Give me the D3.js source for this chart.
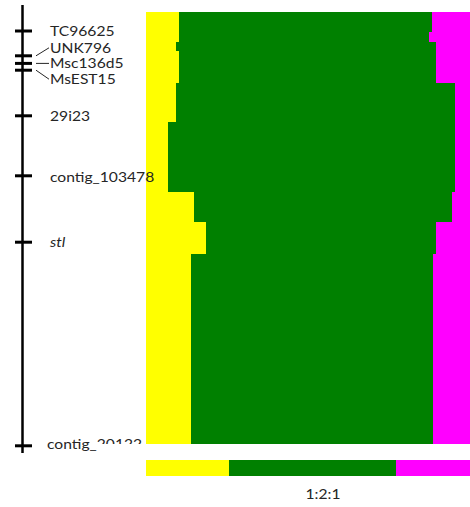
<!DOCTYPE html>
<html><head><meta charset="utf-8">
<script src="https://cdn.jsdelivr.net/npm/d3@7"></script>
<style>html,body{margin:0;padding:0;background:#fff;overflow:hidden}svg{display:block}</style>
</head><body>
<script>
// Genetic map markers (cM)
const markers = ["TC96625","UNK796","Msc136d5","MsEST15","29i23","contig_103478","stl","contig_20122"];
const markerPos = [6.5, 12.7, 14.6, 16.3, 27.7, 42.7, 59.3, 110.2];
const mapLength = 112;

// Segregation bins along the map (cM), genotype class percentages
const binStart = [1.75, 6.75, 9.25, 11.5, 19.5, 29.25, 46.75, 54.25, 62.25];
const binEnd   = [6.75, 9.25, 11.5, 19.5, 29.25, 46.75, 54.25, 62.25, 109.75];
const pctA = [10.0, 10.0, 8.9, 10.0, 8.9, 6.7, 14.5, 17.9, 13.4];   // yellow
const pctH = [76.0, 75.1, 78.2, 77.1, 83.9, 86.1, 77.3, 69.2, 72.7]; // green
const pctB = [14.0, 14.9, 12.9, 12.9, 7.2, 7.2, 8.2, 12.9, 13.9];   // magenta

// Expected ratio
const expectedLabel = "1:2:1";
const expected = [25, 50, 25];

const classes = ["A","H","B"];
const colors = {A:"#ffff00", H:"#008000", B:"#ff00ff"};

const W = 470, H = 507;
const FONT = "Lato, 'Open Sans', sans-serif", FS = 13.5, SX = 1.16, TXT = "#262626";
const svg = d3.select("body").append("svg").attr("width", W).attr("height", H);

const y = d3.scaleLinear().domain([0, mapLength]).range([5, 453]);
const x = d3.scaleLinear().domain([0, 100]).range([146, 479]);

// stacked bins
const rows = binStart.map((s, i) => ({s, e: binEnd[i], A: pctA[i], H: pctH[i], B: pctB[i]}));
const stack = d3.stack().keys(classes)(rows);
svg.append("g").selectAll("g").data(stack).join("g")
  .attr("fill", d => colors[d.key])
  .selectAll("rect").data(d => d).join("rect")
  .attr("x", d => x(d[0]))
  .attr("width", d => x(d[1]) - x(d[0]))
  .attr("y", d => y(d.data.s))
  .attr("height", d => y(d.data.e) - y(d.data.s))
  .attr("shape-rendering", "crispEdges");

// map
const mapX = 22.5;
svg.append("line").attr("x1", mapX).attr("x2", mapX).attr("y1", y(0)).attr("y2", y(mapLength))
  .attr("stroke", "#000").attr("stroke-width", 2.5);
svg.append("g").selectAll("line").data(markerPos).join("line")
  .attr("x1", 15).attr("x2", 32).attr("y1", d => y(d)).attr("y2", d => y(d))
  .attr("stroke", "#000").attr("stroke-width", 3);

function stretchedText(parent, tx, ty, str, anchor) {
  const g = parent.append("g").attr("transform", `translate(${tx},${ty}) scale(${SX},1)`);
  return g.append("text").attr("dy", "0.35em").attr("text-anchor", anchor || "start")
    .attr("font-family", FONT).attr("font-size", FS).attr("fill", TXT).text(str);
}

// label layout offsets (px) for crowded markers
const labelDy = [0, -8, 0, 9, 0, 1, 0, -2];
const labelDx = [0, 0, 0, 0, 0, 0, 0, -3];
const lab = svg.append("g");
markers.forEach((m, i) => {
  const ly = y(markerPos[i]) + labelDy[i];
  stretchedText(lab, 50 + labelDx[i], ly, m).attr("font-style", m === "stl" ? "italic" : null);
  if (Math.abs(labelDy[i]) > 2) {
    svg.append("line").attr("x1", 36).attr("x2", 49)
      .attr("y1", y(markerPos[i])).attr("y2", ly)
      .attr("stroke", TXT).attr("stroke-width", 1);
  }
});
svg.append("line").attr("x1", 36).attr("x2", 49).attr("y1", y(markerPos[2])).attr("y2", y(markerPos[2]))
  .attr("stroke", TXT).attr("stroke-width", 1);

// white panel of lower chart overlapping last label
svg.append("rect").attr("x", 97).attr("y", y(binEnd[binEnd.length-1])).attr("width", W).attr("height", H).attr("fill", "#fff");

// expected ratio bar
const eRow = [{A: expected[0], H: expected[1], B: expected[2]}];
const eStack = d3.stack().keys(classes)(eRow);
svg.append("g").selectAll("rect").data(eStack).join("rect")
  .attr("fill", d => colors[d.key])
  .attr("x", d => x(d[0][0])).attr("width", d => x(d[0][1]) - x(d[0][0]))
  .attr("y", 460).attr("height", 16).attr("shape-rendering", "crispEdges");
stretchedText(svg, 323, 494, expectedLabel, "middle");
</script>
</body></html>
